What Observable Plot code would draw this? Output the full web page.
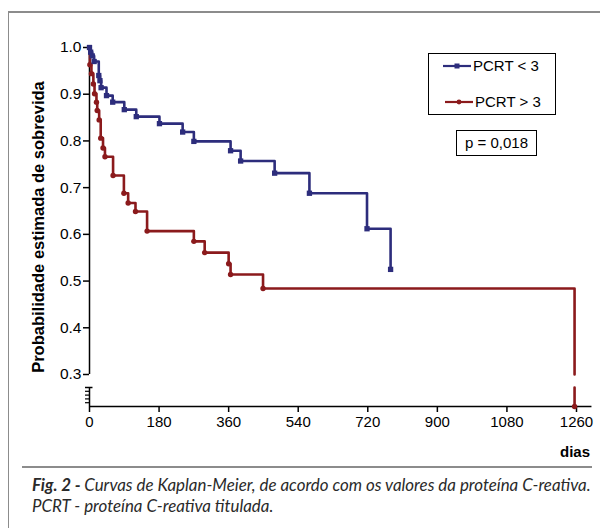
<!DOCTYPE html>
<html>
<head>
<meta charset="utf-8">
<script src="https://cdn.jsdelivr.net/npm/d3@7"></script>
<script src="https://cdn.jsdelivr.net/npm/@observablehq/plot@0.6"></script>
<style>
  html, body { margin: 0; padding: 0; background: #fff; }
  #wrap { position: relative; width: 600px; height: 528px; overflow: hidden; font-family: "Liberation Sans", Arial, sans-serif; }
  #frame { position: absolute; left: 8px; top: 11px; width: 600px; height: 540px; border-left: 1.5px solid #8c8c8c; border-top: 2px solid #8c8c8c; }
  #chart { position: absolute; left: 0; top: 0; }
  #ytitle { position: absolute; left: 38px; top: 227px; transform: translate(-50%, -50%) rotate(-90deg); white-space: nowrap; font-weight: bold; font-size: 16.5px; color: #000; }
  #xtitle { position: absolute; right: 10px; top: 443px; font-weight: bold; font-size: 15px; color: #000; }
  #legend { position: absolute; left: 428px; top: 53px; width: 128px; height: 62px; border: 1.5px solid #000; box-sizing: border-box; }
  .lrow { position: absolute; font-size: 15px; white-space: nowrap; display: flex; align-items: center; }
  .lrow svg { margin-right: 2px; }
  #pbox { position: absolute; left: 456px; top: 130px; width: 81px; height: 26px; border: 1.5px solid #000; box-sizing: border-box; font-size: 15px; text-align: center; line-height: 23px; }
  #sep { position: absolute; left: 22px; top: 466px; width: 570px; height: 0; border-top: 2px solid #8c8c8c; }
  #caption { position: absolute; left: 32px; top: 474px; font-family: Lato, "Open Sans", sans-serif; font-style: italic; font-size: 16.9px; line-height: 21px; color: #2a2a2a; white-space: nowrap; }
</style>
</head>
<body>
<div id="wrap">
  <div id="frame"></div>
  <div id="chart"></div>
  <div id="ytitle">Probabilidade estimada de sobrevida</div>
  <div id="xtitle">dias</div>
  <div id="legend"></div>
  <div id="pbox"></div>
  <div id="sep"></div>
  <div id="caption"></div>
</div>
<script>
// ---- Data ----
const blueLabel = "PCRT < 3";
const blueDays = [0, 3, 7, 12, 24, 27, 30, 44, 60, 90, 121, 181, 241, 270, 365, 391, 479, 569, 718, 779];
const blueSurv = [1.0, 0.99, 0.982, 0.97, 0.94, 0.929, 0.914, 0.897, 0.883, 0.867, 0.852, 0.837, 0.819, 0.799, 0.779, 0.757, 0.731, 0.688, 0.612, 0.525];

const redLabel = "PCRT > 3";
const redDays = [0, 1, 5, 10, 13, 18, 20, 25, 29, 35, 40, 61, 89, 100, 119, 149, 270, 298, 360, 365, 449, 1255];
const redSurv = [1.0, 0.963, 0.944, 0.922, 0.901, 0.883, 0.865, 0.845, 0.806, 0.785, 0.766, 0.726, 0.688, 0.667, 0.649, 0.607, 0.585, 0.561, 0.537, 0.514, 0.484, 0];

const xTicks = [0, 180, 360, 540, 720, 900, 1080, 1260];
const yTicks = [0.3, 0.4, 0.5, 0.6, 0.7, 0.8, 0.9, 1.0];
const breakMinorTicks = [0.05, 0.1, 0.15, 0.2];
const breakLow = 0.25, breakHigh = 0.3;
const pText = "p = 0,018";
const xTitle = "dias";
const yTitle = "Probabilidade estimada de sobrevida";

const blueColor = "#2d2d7c";
const redColor = "#8b1a1c";

// ---- Build step paths (split at axis break) ----
function stepPath(days, surv) {
  const pts = [{x: days[0], y: surv[0]}];
  for (let i = 1; i < days.length; i++) {
    const prev = surv[i - 1], cur = surv[i], t = days[i];
    pts.push({x: t, y: prev});
    if (prev >= breakHigh && cur < breakLow) {
      pts.push({x: t, y: breakHigh});
      pts.push({x: t, y: NaN});
      pts.push({x: t, y: breakLow});
    }
    pts.push({x: t, y: cur});
  }
  return pts;
}
const bluePath = stepPath(blueDays, blueSurv);
const redPath = stepPath(redDays, redSurv);
const bluePts = blueDays.map((d, i) => ({x: d, y: blueSurv[i]}));
const redPts = redDays.map((d, i) => ({x: d, y: redSurv[i]})).slice(1);

const W = 600, H = 440, mTop = 47, mBottom = 34, mLeft = 89;
const pxPerDay = 487 / 1260;
const xMax = 1300;
const mRight = W - (mLeft + xMax * pxPerDay);
const yBottom = H - mBottom;

const chart = Plot.plot({
  width: W,
  height: H,
  marginTop: mTop,
  marginBottom: mBottom,
  marginLeft: mLeft,
  marginRight: mRight,
  style: {fontFamily: "Liberation Sans, Arial, sans-serif", fontSize: "15px", color: "#000", background: "transparent"},
  x: {domain: [0, xMax]},
  y: {type: "linear", domain: [0, breakLow, breakHigh, 1.0], range: [yBottom, yBottom - 19, yBottom - 32, mTop]},
  marks: [
    // axes
    Plot.ruleY([0], {x1: 0, x2: xMax, stroke: "#000", strokeWidth: 1.5}),
    Plot.ruleX([0], {y1: breakHigh, y2: 1.0, stroke: "#000", strokeWidth: 1.5}),
    Plot.ruleX([0], {y1: 0, y2: breakLow, stroke: "#000", strokeWidth: 1.5}),
    Plot.axisX(xTicks, {tickSize: 6, tickPadding: 4, tickFormat: d => String(d), label: null, strokeWidth: 1.5, fontSize: 15}),
    Plot.axisY(yTicks, {tickSize: 6, tickPadding: 2, tickFormat: d3.format(".1f"), label: null, strokeWidth: 1.5, fontSize: 15.5}),
    Plot.axisY(breakMinorTicks, {tickSize: 4, tickFormat: () => "", label: null, strokeWidth: 1.2}),
    Plot.axisY([breakLow], {tickSize: 4, tickFormat: () => "", label: null, strokeWidth: 1.5}),
    Plot.ruleY([breakLow], {x1: 0, x2: 9, stroke: "#000", strokeWidth: 1.5}),
    // red series
    Plot.line(redPath, {x: "x", y: "y", stroke: redColor, strokeWidth: 2.6, curve: "linear"}),
    Plot.dot(redPts, {x: "x", y: "y", fill: redColor, r: 2.7, symbol: "circle"}),
    // blue series
    Plot.line(bluePath, {x: "x", y: "y", stroke: blueColor, strokeWidth: 2.6, curve: "linear"}),
    Plot.dot(bluePts, {x: "x", y: "y", fill: blueColor, r: 3, symbol: "square"})
  ]
});
document.getElementById("chart").appendChild(chart);

document.getElementById("ytitle").textContent = yTitle;
document.getElementById("xtitle").textContent = xTitle;
document.getElementById("pbox").textContent = pText;

// legend
const legend = document.getElementById("legend");
function swatch(color, shape) {
  const ns = "http://www.w3.org/2000/svg";
  const s = document.createElementNS(ns, "svg");
  s.setAttribute("width", 28); s.setAttribute("height", 8);
  const l = document.createElementNS(ns, "line");
  l.setAttribute("x1", 0); l.setAttribute("x2", 28); l.setAttribute("y1", 4); l.setAttribute("y2", 4);
  l.setAttribute("stroke", color); l.setAttribute("stroke-width", 2.2);
  s.appendChild(l);
  let m;
  if (shape === "square") {
    m = document.createElementNS(ns, "rect");
    m.setAttribute("x", 11.5); m.setAttribute("y", 1.5); m.setAttribute("width", 5); m.setAttribute("height", 5);
  } else {
    m = document.createElementNS(ns, "circle");
    m.setAttribute("cx", 14); m.setAttribute("cy", 4); m.setAttribute("r", 2.4);
  }
  m.setAttribute("fill", color);
  s.appendChild(m);
  return s;
}
[[blueLabel, blueColor, "square", 14, 3], [redLabel, redColor, "circle", 16, 39]].forEach(([lab, col, sh, left, top]) => {
  const row = document.createElement("div");
  row.className = "lrow";
  row.style.left = left + "px";
  row.style.top = top + "px";
  row.appendChild(swatch(col, sh));
  const t = document.createElement("span");
  t.textContent = lab;
  row.appendChild(t);
  legend.appendChild(row);
});

// caption
const cap = document.getElementById("caption");
cap.innerHTML = "";
const b = document.createElement("b"); b.textContent = "Fig. 2 - ";
cap.appendChild(b);
cap.appendChild(document.createTextNode("Curvas de Kaplan-Meier, de acordo com os valores da proteína C-reativa."));
cap.appendChild(document.createElement("br"));
cap.appendChild(document.createTextNode("PCRT - proteína C-reativa titulada."));
</script>
</body>
</html>
